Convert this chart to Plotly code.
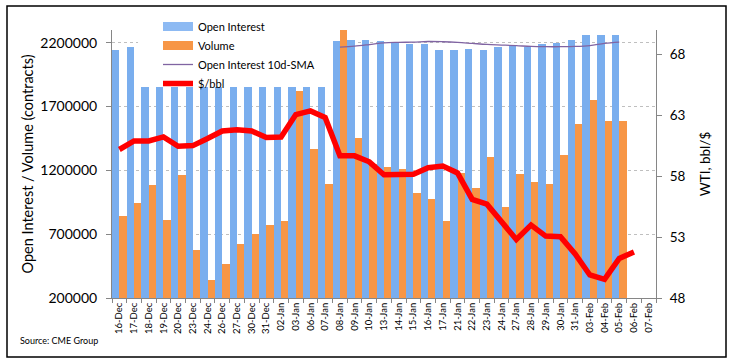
import plotly.graph_objects as go

dates = ["16-Dec","17-Dec","18-Dec","19-Dec","20-Dec","23-Dec","24-Dec","26-Dec","27-Dec","30-Dec","31-Dec",
         "02-Jan","03-Jan","06-Jan","07-Jan","08-Jan","09-Jan","10-Jan","13-Jan","14-Jan","15-Jan","16-Jan",
         "17-Jan","21-Jan","22-Jan","23-Jan","24-Jan","27-Jan","28-Jan","29-Jan","30-Jan","31-Jan",
         "03-Feb","04-Feb","05-Feb","06-Feb","07-Feb"]

open_interest = [2145000, 2163000, 1850000, 1850000, 1850000, 1850000, 1850000, 1850000, 1850000, 1850000, 1850000,
                 1850000, 1850000, 1850000, 1850000, 2215000, 2223000, 2223000, 2210000, 2200000, 2192000, 2192000,
                 2145000, 2145000, 2153000, 2145000, 2169000, 2171000, 2163000, 2192000, 2197000, 2220000,
                 2262000, 2262000, 2262000, None, None]

volume = [840000, 945000, 1085000, 809000, 1161000, 575000, 341000, 466000, 622000, 700000, 770000,
          802000, 1825000, 1364000, 1093000, 2300000, 1455000, 1247000, 1226000, 1210000, 1023000, 973000,
          802000, 1179000, 1062000, 1304000, 913000, 1169000, 1106000, 1093000, 1317000, 1565000,
          1752000, 1590000, 1590000, None, None]

oi_sma10 = [None]*15 + [2166000, 2174000, 2186000, 2199000, 2203000, 2205000, 2210000,
                        2208000, 2203000, 2195000, 2187000, 2182000, 2177000, 2171000, 2169000, 2169000, 2171000,
                        2178000, 2195000, 2205000, None, None]

price = [60.19, 60.89, 60.89, 61.22, 60.46, 60.51, 61.09, 61.71, 61.82, 61.71, 61.17,
         61.22, 63.06, 63.36, 62.81, 59.67, 59.67, 59.18, 58.12, 58.16, 58.16, 58.70,
         58.84, 58.27, 56.09, 55.70, 54.17, 52.81, 53.98, 53.08, 53.03, 51.61,
         49.89, 49.53, 51.25, 51.77, None]

left_ticks = [200000, 700000, 1200000, 1700000, 2200000]
right_ticks = [48, 53, 58, 63, 68]

FONT = "Lato"
BLUE = "#7AAEEE"
ORANGE = "#F79646"
PURPLE = "#8064A2"
RED = "#FF0000"

fig = go.Figure()
fig.add_trace(go.Bar(x=dates, y=open_interest, marker=dict(color=BLUE, line=dict(width=0)),
                     showlegend=False, name="Open Interest"))
fig.add_trace(go.Bar(x=dates, y=volume, marker=dict(color=ORANGE, line=dict(width=0)),
                     showlegend=False, name="Volume"))
fig.add_trace(go.Scatter(x=dates, y=oi_sma10, mode="lines", line=dict(color=PURPLE, width=1.3, shape="spline"),
                         name="Open Interest 10d-SMA", legendrank=3))
fig.add_trace(go.Scatter(x=dates, y=price, mode="lines", line=dict(color=RED, width=5.5),
                         name="$/bbl", yaxis="y2", legendrank=4))
# legend swatches for the bar series
fig.add_trace(go.Scatter(x=[None], y=[None], mode="lines", line=dict(color="#8DBAF3", width=9),
                         name="Open Interest", legendrank=1))
fig.add_trace(go.Scatter(x=[None], y=[None], mode="lines", line=dict(color=ORANGE, width=9),
                         name="Volume", legendrank=2))

fig.update_layout(
    width=736, height=363,
    margin=dict(l=112, r=80, t=30, b=65, autoexpand=False),
    paper_bgcolor="white", plot_bgcolor="white",
    barmode="group", bargap=0, bargroupgap=0,
    font=dict(family=FONT, color="#000000", size=12),
    legend=dict(x=(158-112)/544, y=1 + 18/268, xanchor="left", yanchor="top",
                bgcolor="rgba(255,255,255,0)", borderwidth=0, font=dict(size=11, family=FONT),
                tracegroupgap=0, itemwidth=30, traceorder="normal"),
    xaxis=dict(type="category", categoryorder="array", categoryarray=dates, automargin=False,
               tickangle=-90, tickfont=dict(size=9.5, family=FONT),
               ticks="outside", ticklen=4, tickcolor="#868686", tickson="boundaries",
               showline=True, linecolor="#868686", linewidth=1, showgrid=False,
               range=[-0.5, len(dates)-0.5]),
    yaxis=dict(range=[200000, 2300000], tickvals=left_ticks, ticktext=[str(v) for v in left_ticks],
               tickfont=dict(size=14, family=FONT), automargin=False,
               ticks="outside", ticklen=5, tickcolor="#868686", ticklabelstandoff=6,
               showline=True, linecolor="#868686", linewidth=1,
               showgrid=True, gridcolor="#BFBFBF", griddash="dot", gridwidth=1, zeroline=False,
               title=dict(text="Open Interest / Volume (contracts)", font=dict(size=14.5, family=FONT), standoff=3)),
    yaxis2=dict(range=[48, 70], tickvals=right_ticks, overlaying="y", side="right", automargin=False,
                tickfont=dict(size=13.5, family=FONT), ticklabelstandoff=5,
                ticks="outside", ticklen=5, tickcolor="#868686",
                showline=True, linecolor="#868686", linewidth=1, showgrid=False, zeroline=False,
                title=dict(text="WTI, bbl/$", font=dict(size=13.5, family=FONT), standoff=16)),
    shapes=[
        # white legend backing: hides gridline under the legend, but stays beneath the bars
        dict(type="rect", xref="x", yref="y", layer="between",
             x0=1.27, x1=14.46, y0=1845000, y1=2300000,
             line=dict(width=0), fillcolor="white"),
        dict(type="rect", xref="paper", yref="paper",
             x0=(7-112)/544, x1=(726-112)/544, y0=(298-357)/268, y1=(298-6)/268,
             line=dict(color="black", width=1.5), fillcolor="rgba(0,0,0,0)", layer="above"),
    ],
    annotations=[dict(text="Source: CME Group", xref="paper", yref="paper",
                      x=(18-112)/544, y=(298-340)/268, xanchor="left", yanchor="middle",
                      showarrow=False, font=dict(size=9, family=FONT))],
)

fig.write_html("out.html", config={"displayModeBar": False},
               post_script="document.body.style.margin='0';document.body.style.padding='0';")
